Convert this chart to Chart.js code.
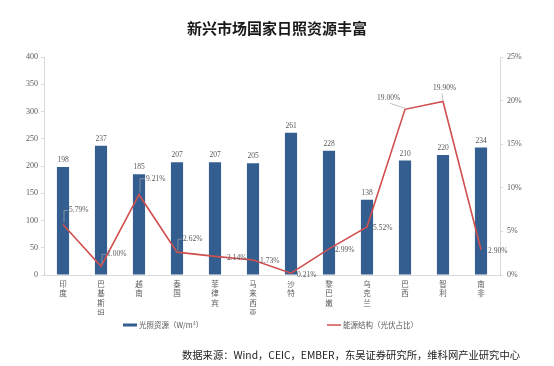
<!DOCTYPE html>
<html>
<head>
<meta charset="utf-8">
<script src="https://cdn.jsdelivr.net/npm/chart.js@4.4.0/dist/chart.umd.min.js"></script>
<style>
  html, body { margin: 0; padding: 0; background: #fff; }
  #wrap { width: 554px; height: 366px; }
</style>
</head>
<body>
<div id="wrap"><canvas id="chart" width="554" height="366"></canvas></div>
<script>
// data
const countries = ['印度', '巴基斯坦', '越南', '泰国', '菲律宾', '马来西亚', '沙特', '黎巴嫩', '乌克兰', '巴西', '智利', '南非'];
const solarResource = [198, 237, 185, 207, 207, 205, 261, 228, 138, 210, 220, 234];
const pvShare = [5.79, 1.00, 9.21, 2.62, 2.14, 1.73, 0.21, 2.99, 5.52, 19.00, 19.90, 2.90];
const leftTicks = [0, 50, 100, 150, 200, 250, 300, 350, 400];
const rightTicks = [0, 5, 10, 15, 20, 25];

const BAR_COLOR = '#335E8F';
const LINE_COLOR = '#D0504F';
const TEXT_GRAY = '#595959';
const AXIS_GRAY = '#D9D9D9';

// where each line label sits relative to its point: [dx, dy, leader]
const lineLabelPlace = [
    [6, -14, 'elbow'], [6, -12, 'elbow'], [7, -16, 'elbow'], [6, -13, 'elbow'],
    [12, 2, ''], [7, 1, ''], [6, 2, ''], [6, 1, ''], [6, 1, ''],
    [-28, -11, 'straight'], [-10, -13, 'straight'], [7, 1, '']
];

const labelsPlugin = {
    id: 'labelsPlugin',
    afterDatasetsDraw(chart) {
        const ctx = chart.ctx;
        ctx.save();
        ctx.font = '7.5px "Liberation Serif"';
        ctx.fillStyle = TEXT_GRAY;

        // bar values
        const barMeta = chart.getDatasetMeta(0);
        ctx.textAlign = 'center';
        ctx.textBaseline = 'bottom';
        barMeta.data.forEach((el, i) => {
            ctx.fillText(solarResource[i], el.x, el.y - 3);
        });

        // line values with leader lines
        const lineMeta = chart.getDatasetMeta(1);
        ctx.textAlign = 'left';
        ctx.textBaseline = 'middle';
        ctx.strokeStyle = '#A6A6A6';
        ctx.lineWidth = 0.7;
        lineMeta.data.forEach((pt, i) => {
            const [dx, dy, leader] = lineLabelPlace[i];
            const txt = pvShare[i].toFixed(2) + '%';
            const tx = pt.x + dx;
            const ty = pt.y + dy;
            if (leader === 'elbow') {
                ctx.beginPath();
                ctx.moveTo(pt.x + 1, pt.y - 2);
                ctx.lineTo(pt.x + 1, ty);
                ctx.lineTo(tx - 1, ty);
                ctx.stroke();
            } else if (leader === 'straight') {
                const w = ctx.measureText(txt).width;
                ctx.beginPath();
                ctx.moveTo(pt.x, pt.y - 1);
                ctx.lineTo(Math.min(tx + w, pt.x) - (dx < -15 ? 10 : 1), ty + 5);
                ctx.stroke();
            }
            ctx.fillText(txt, tx, ty);
        });
        ctx.restore();
    },
    afterDraw(chart) {
        const ctx = chart.ctx;
        ctx.save();
        // title
        ctx.font = 'bold 15px "Noto Sans CJK SC"';
        ctx.fillStyle = '#1A1A1A';
        ctx.textAlign = 'center';
        ctx.textBaseline = 'middle';
        ctx.fillText('新兴市场国家日照资源丰富', 277, 28);

        // legend
        ctx.font = '7.5px "Noto Sans CJK SC"';
        ctx.textAlign = 'left';
        ctx.fillStyle = BAR_COLOR;
        ctx.fillRect(123, 323.5, 14, 3);
        ctx.fillStyle = TEXT_GRAY;
        ctx.fillText('光照资源（W/m²）', 139, 325);
        ctx.strokeStyle = LINE_COLOR;
        ctx.lineWidth = 1.5;
        ctx.beginPath();
        ctx.moveTo(327, 325);
        ctx.lineTo(341, 325);
        ctx.stroke();
        ctx.fillText('能源结构（光伏占比）', 343, 325);

        // source
        ctx.font = '10.3px "Noto Sans CJK SC"';
        ctx.fillStyle = '#222';
        ctx.fillText('数据来源：Wind，CEIC，EMBER，东吴证券研究所，维科网产业研究中心', 182, 355);
        ctx.restore();
    }
};

new Chart(document.getElementById('chart'), {
    type: 'bar',
    data: {
        labels: countries.map(c => c.split('')),
        datasets: [{
            type: 'bar',
            label: '光照资源（W/m²）',
            data: solarResource,
            backgroundColor: BAR_COLOR,
            yAxisID: 'y',
            categoryPercentage: 1,
            barPercentage: 0.32,
            order: 1
        }, {
            type: 'line',
            label: '能源结构（光伏占比）',
            data: pvShare,
            borderColor: LINE_COLOR,
            borderWidth: 1.6,
            pointRadius: 0,
            tension: 0,
            yAxisID: 'y1',
            order: 0
        }]
    },
    options: {
        responsive: false,
        animation: false,
        layout: { padding: { left: 0, right: 0, top: 57, bottom: 51 } },
        plugins: {
            legend: { display: false },
            tooltip: { enabled: false }
        },
        scales: {
            x: {
                grid: { display: false },
                border: { color: AXIS_GRAY },
                ticks: {
                    color: TEXT_GRAY,
                    font: { family: '"Noto Sans CJK SC"', size: 7.5, lineHeight: 1.3 },
                    maxRotation: 0,
                    autoSkip: false,
                    padding: -4
                },
                afterFit(s) { s.height = 40; }
            },
            y: {
                min: 0,
                max: 400,
                afterBuildTicks(s) { s.ticks = leftTicks.map(v => ({ value: v })); },
                grid: { drawOnChartArea: false, tickLength: 3, color: AXIS_GRAY },
                border: { color: AXIS_GRAY },
                ticks: {
                    color: TEXT_GRAY,
                    font: { family: '"Liberation Serif"', size: 8 },
                    padding: 3
                },
                afterFit(s) { s.width = 44; }
            },
            y1: {
                position: 'right',
                min: 0,
                max: 25,
                afterBuildTicks(s) { s.ticks = rightTicks.map(v => ({ value: v })); },
                grid: { drawOnChartArea: false, tickLength: 3, color: AXIS_GRAY },
                border: { color: AXIS_GRAY },
                ticks: {
                    color: TEXT_GRAY,
                    font: { family: '"Liberation Serif"', size: 8 },
                    padding: 4,
                    callback: v => v + '%'
                },
                afterFit(s) { s.width = 54; }
            }
        }
    },
    plugins: [labelsPlugin]
});
</script>
</body>
</html>
